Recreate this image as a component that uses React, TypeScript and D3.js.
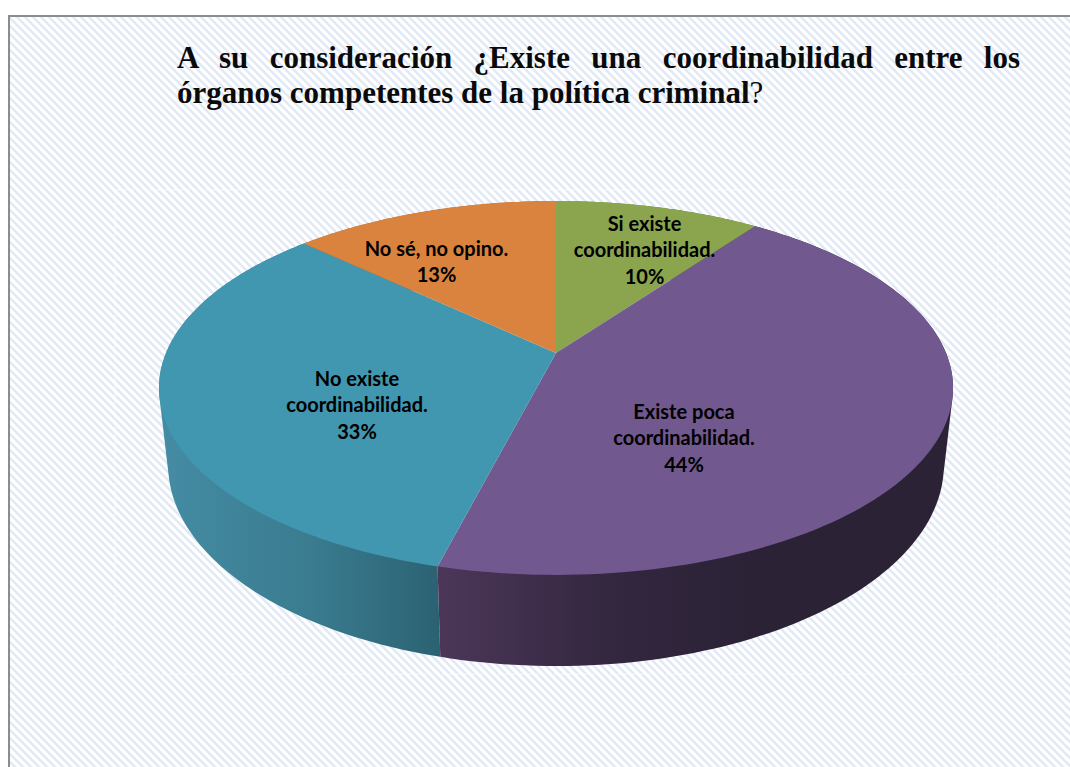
import React from "react";
import * as d3 from "d3";

const categories = ["Si existe coordinabilidad.", "Existe poca coordinabilidad.", "No existe coordinabilidad.", "No sé, no opino."];
const values = [10, 44, 33, 13];
const percentLabels = ["10%", "44%", "33%", "13%"];
const labelLines = [["Si existe", "coordinabilidad."], ["Existe poca", "coordinabilidad."], ["No existe", "coordinabilidad."], ["No sé, no opino."]];
const topColors = ["#8aa54d", "#71588f", "#4197b0", "#d9833f"];
const wallStops = [
  [[0, "#6d8439"], [1, "#5c7030"]],
  [[0, "#4c3759"], [0.32, "#342740"], [0.6, "#2b2236"], [1, "#2b2236"]],
  [[0, "#448ca4"], [0.55, "#3a7b8f"], [1, "#2b6272"]],
  [[0, "#b06a30"], [1, "#a06028"]],
];
const labelCentres: [number, number][] = [[644.5, 231], [684, 419], [357, 386], [436.5, 256]];
const titleLines = ["A su consideración ¿Existe una coordinabilidad entre los", "órganos competentes de la política criminal"];

const W = 1070, H = 767;
const persp = -0.187;
const topPlane = { x0: 556, y0: 353, a: 180.4, b: 390 };
const basePlane = { x0: 556, y0: 427.4, a: 194, b: 381 };

const project = (p: typeof topPlane, angle: number, r = 1): [number, number] => {
  const u = Math.sin(angle) * r, v = -Math.cos(angle) * r;
  const d = 1 + persp * v;
  return [p.x0 + (p.b * u) / d, p.y0 + (p.a * v) / d];
};
const samples = (a0: number, a1: number) => d3.range(0, 121).map((i) => a0 + ((a1 - a0) * i) / 120);
const line = d3.line<[number, number]>();

export default function App() {
  const arcs = d3.pie<number>().sort(null)(values);
  const order = [3, 0, 2, 1];
  return (
    <svg width={W} height={H} viewBox={`0 0 ${W} ${H}`} style={{ position: "absolute", left: 0, top: 0, display: "block" }}>
      <defs>
        <pattern id="hatch" width="8" height="8" patternUnits="userSpaceOnUse">
          <rect width="8" height="8" fill="#ffffff" />
          <path d="M-2,-2L10,10M-2,6L2,10M6,-2L10,2" stroke="#dfe9f7" strokeWidth="2.3" />
        </pattern>
        {arcs.map((a, i) => {
          const xs = samples(a.startAngle, a.endAngle).flatMap((t) => [project(topPlane, t)[0], project(basePlane, t)[0]]);
          return (
            <linearGradient key={i} id={`wall${i}`} gradientUnits="userSpaceOnUse" x1={d3.min(xs)} x2={d3.max(xs)} y1="0" y2="0">
              {wallStops[i].map(([o, c], j) => <stop key={j} offset={o as number} stopColor={c as string} />)}
            </linearGradient>
          );
        })}
      </defs>
      <rect x="0" y="0" width={W} height={H} fill="#ffffff" />
      <rect x="9" y="16" width={W} height={H} fill="url(#hatch)" stroke="#8c8c8c" strokeWidth="2" />
      <rect x="115" y="190" width="883" height="484" fill="none" stroke="#ffffff" strokeWidth="1" strokeDasharray="5 2" opacity="0.75" />

      {order.map((i) => {
        const a = arcs[i];
        const ts = samples(a.startAngle, a.endAngle);
        const pts = [...ts.map((t) => project(topPlane, t)), ...ts.map((t) => project(basePlane, t))];
        const hull = d3.polygonHull(pts) as [number, number][];
        return <path key={i} d={line(hull) + "Z"} fill={`url(#wall${i})`} />;
      })}
      {arcs.map((a, i) => {
        const ts = samples(a.startAngle, a.endAngle);
        const pts: [number, number][] = [[topPlane.x0, topPlane.y0], ...ts.map((t) => project(topPlane, t))];
        return <path key={i} d={line(pts) + "Z"} fill={topColors[i]} />;
      })}

      <g fontFamily="Lato" fontWeight="700" fontSize="20" fill="#000000" textAnchor="middle">
        {categories.map((c, i) => (
          <text key={c} x={labelCentres[i][0]} y={labelCentres[i][1]}>
            {labelLines[i].map((l, j) => <tspan key={j} x={labelCentres[i][0]} dy={j === 0 ? 0 : 26.3}>{l}</tspan>)}
            <tspan x={labelCentres[i][0]} dy={26.3}>{percentLabels[i]}</tspan>
          </text>
        ))}
      </g>

      <g fontFamily="Liberation Serif" fontWeight="700" fontSize="31" fill="#0a0a0a">
        <text x="177" y="68" wordSpacing="13.6">{titleLines[0]}</text>
        <text x="177" y="103">{titleLines[1]}<tspan fontWeight="400">?</tspan></text>
      </g>
    </svg>
  );
}
